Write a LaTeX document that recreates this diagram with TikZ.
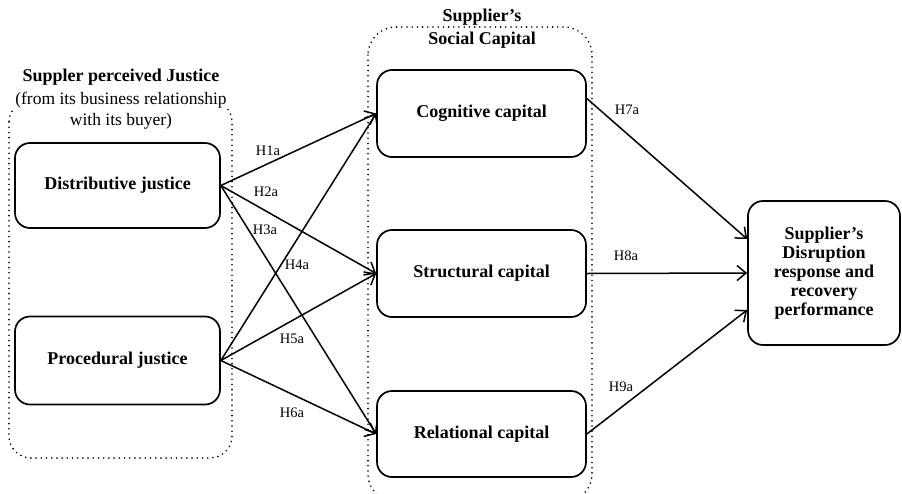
\documentclass[tikz,border=0pt]{standalone}
\usepackage{fontspec}
\setmainfont{Liberation Serif}
\usetikzlibrary{arrows.meta}
\begin{document}
\begin{tikzpicture}[x=1pt,y=-1pt,
  box/.style={draw, line width=1.7pt, rounded corners=15pt, align=center,
    font=\bfseries\fontsize{18}{19}\selectfont},
  group/.style={line width=1.8pt, dash pattern=on 0pt off 5.2pt, line cap=round},
  title/.style={font=\bfseries\fontsize{18}{20}\selectfont, inner sep=1pt},
  subtitle/.style={font=\fontsize{17.5}{20}\selectfont, inner sep=1pt},
  hyp/.style={font=\fontsize{14.5}{16}\selectfont, inner sep=0pt},
  link/.style={line width=1.5pt, -{Straight Barb[length=9pt,width=15pt,line width=1.5pt]}}
]
\useasboundingbox (0,0) rectangle (902,493);

% dotted groupings
\draw[group, rounded corners=22pt] (9,100) rectangle (232,458);
\draw[group, rounded corners=28pt] (368,27) rectangle (592,502);

% group titles
\node[title] (tl1) at (121,77) {Suppler perceived Justice};
\node[subtitle, fill=white] (tl2) at (121,100) {(from its business relationship};
\node[subtitle] (tl3) at (121,121) {with its buyer)};
\node[title, fill=white] (tm1) at (482,17) {Supplier’s};
\node[title] (tm2) at (482,40) {Social Capital};

% constructs
\node[box, minimum width=205pt, minimum height=85pt] (dj) at (117.5,185.5) {Distributive justice};
\node[box, minimum width=205pt, minimum height=88pt] (pj) at (117.5,360.5) {Procedural justice};
\node[box, minimum width=209pt, minimum height=87pt] (cc) at (481.5,113.5) {Cognitive capital};
\node[box, minimum width=209pt, minimum height=87pt] (sc) at (481.5,273.5) {Structural capital};
\node[box, minimum width=209pt, minimum height=86pt] (rc) at (481.5,434) {Relational capital};
\node[box, minimum width=152pt, minimum height=144pt] (out) at (824,273)
  {Supplier’s\\Disruption\\response and\\recovery\\performance};

% hypothesised paths
\draw[link] (dj.east) -- (cc.west);
\draw[link] (dj.east) -- (sc.west);
\draw[link] (dj.east) -- (rc.west);
\draw[link] (pj.east) -- (cc.west);
\draw[link] (pj.east) -- (sc.west);
\draw[link] (pj.east) -- (rc.west);
\draw[link] ([yshift=15pt]cc.east) -- ([yshift=34pt]out.west);
\draw[link] (sc.east) -- (out.west);
\draw[link] (rc.east) -- ([yshift=-37pt]out.west);

% path labels
\node[hyp] (h1) at (268,151) {H1a};
\node[hyp] (h2) at (266,192) {H2a};
\node[hyp] (h3) at (265,230) {H3a};
\node[hyp] (h4) at (297,265) {H4a};
\node[hyp] (h5) at (292,339) {H5a};
\node[hyp] (h6) at (292,413) {H6a};
\node[hyp] (h7) at (627,110) {H7a};
\node[hyp] (h8) at (626,256) {H8a};
\node[hyp] (h9) at (621,387) {H9a};
\end{tikzpicture}
\end{document}
